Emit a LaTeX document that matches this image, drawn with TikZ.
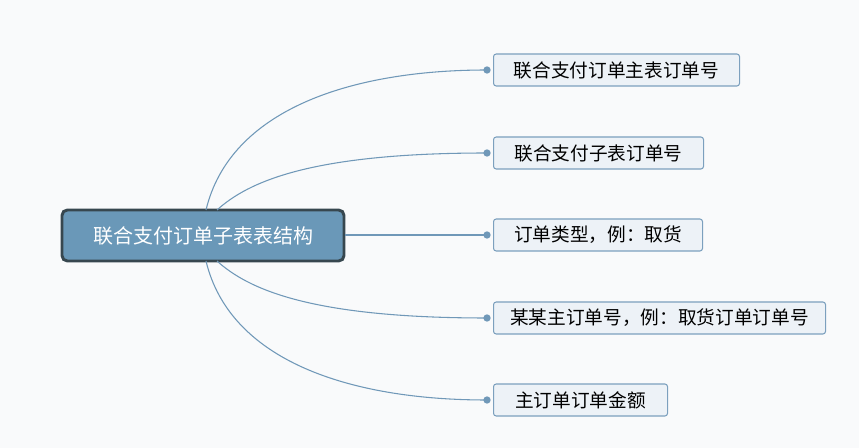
\documentclass[tikz,border=0pt]{standalone}
\usepackage{fontspec}
\newfontfamily\cjk{Noto Sans CJK SC}
\definecolor{bgc}{RGB}{249,250,251}
\definecolor{hubfill}{RGB}{106,152,184}
\definecolor{hubline}{RGB}{55,71,79}
\definecolor{leaffill}{RGB}{237,242,247}
\definecolor{leafline}{RGB}{124,160,190}
\definecolor{linkc}{RGB}{112,152,184}
\tikzset{
  hub/.style={rectangle, rounded corners=4pt, draw=hubline, line width=2.2pt, fill=hubfill,
    text=white, font=\cjk\fontsize{15}{18}\selectfont, minimum width=211.5pt, minimum height=38.25pt},
  leaf/.style={rectangle, rounded corners=2pt, draw=leafline, line width=0.8pt, fill=leaffill,
    text=black, font=\cjk\fontsize{14}{17}\selectfont, minimum height=24pt, anchor=west, inner sep=0pt},
  dot/.style={circle, fill=linkc, inner sep=0pt, minimum size=5.5pt},
  link/.style={draw=linkc, line width=0.8pt}
}
\begin{document}
\begin{tikzpicture}[x=0.75pt, y=-0.75pt]
    \useasboundingbox[fill=bgc] (0,0) rectangle (859,448);
    \node[hub] (hub) at (203,235.5) {联合支付订单子表表结构};
    \node[leaf, minimum width=184.5pt] (a) at (493,70) {联合支付订单主表订单号};
    \node[leaf, minimum width=157.5pt] (b) at (493,153) {联合支付子表订单号};
    \node[leaf, minimum width=156.75pt] (c) at (493,235) {订单类型，例：取货};
    \node[leaf, minimum width=249pt] (d) at (493,318) {某某主订单号，例：取货订单订单号};
    \node[leaf, minimum width=130.5pt] (e) at (493,400) {主订单订单金额};
    \node[dot] (da) at (487,70) {};
    \node[dot] (db) at (487,153) {};
    \node[dot] (dc) at (487,235) {};
    \node[dot] (dd) at (487,318) {};
    \node[dot] (de) at (487,400) {};
    \coordinate (sa) at (206,210);
    \coordinate (sb) at (217,210);
    \coordinate (sd) at (217,261);
    \coordinate (se) at (206,261);
    \draw[link] (sa) .. controls (230,110) and (350,70) .. (da.center);
    \draw[link] (sb) .. controls (248,182) and (310,153) .. (db.center);
    \draw[link] (hub.east |- dc) -- (dc.center);
    \draw[link] (sd) .. controls (248,289) and (310,318) .. (dd.center);
    \draw[link] (se) .. controls (230,361) and (350,400) .. (de.center);
\end{tikzpicture}
\end{document}
